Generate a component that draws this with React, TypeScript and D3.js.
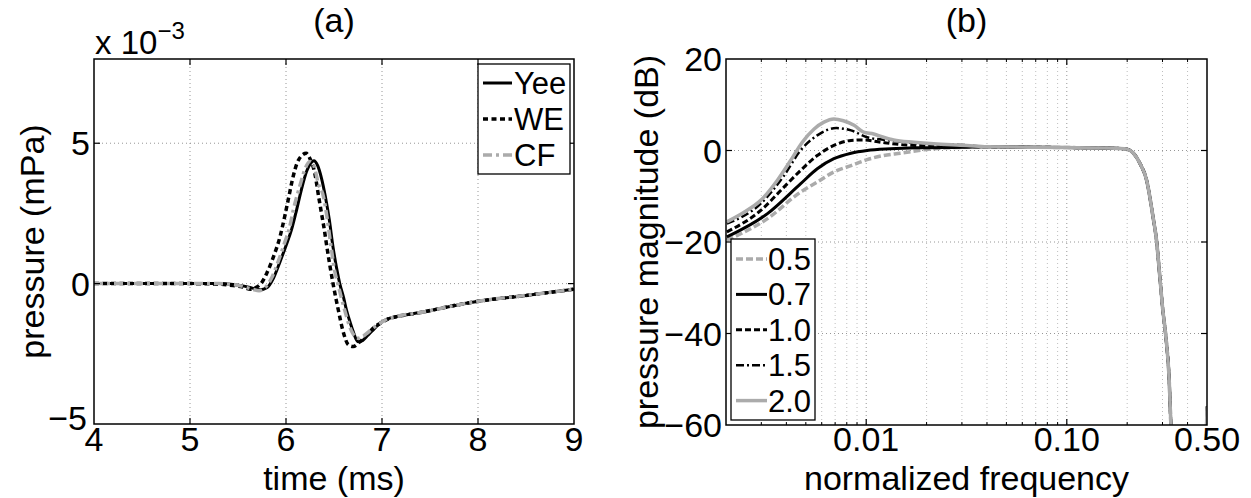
import React from 'react';
import * as d3 from 'd3';

const FONT = "'Liberation Sans', Arial, Helvetica, sans-serif";
const GRAY = '#ababab';

// ---- (a) pressure waveforms: time in ms, pressure in units of 1e-3 mPa ----
const yeeT = [4.0, 5.0, 5.3, 5.45, 5.55, 5.65, 5.73, 5.8, 5.87, 5.94, 6.0, 6.06, 6.11, 6.16, 6.215, 6.26, 6.29, 6.33, 6.37, 6.41, 6.45, 6.49, 6.53, 6.56, 6.6, 6.63, 6.67, 6.7, 6.75, 6.8, 6.85, 6.9, 6.95, 7.0, 7.05, 7.15, 7.4, 7.8, 8.0, 8.5, 9.0];
const yeeP = [0, 0, 0, -0.03, -0.08, -0.16, -0.22, -0.15, 0.2, 0.8, 1.35, 1.95, 2.62, 3.34, 4.0, 4.3, 4.38, 4.2, 3.75, 3.1, 2.3, 1.3, 0.5, 0.0, -0.5, -0.94, -1.4, -1.71, -2.07, -2.02, -1.85, -1.68, -1.5, -1.36, -1.27, -1.17, -1.03, -0.75, -0.63, -0.42, -0.2];

const weT = [4.0, 5.0, 5.3, 5.45, 5.55, 5.63, 5.68, 5.75, 5.8, 5.87, 5.94, 5.99, 6.03, 6.06, 6.13, 6.21, 6.25, 6.3, 6.34, 6.37, 6.4, 6.42, 6.49, 6.545, 6.6, 6.65, 6.7, 6.77, 6.85, 6.92, 7.0, 7.05, 7.15, 7.4, 7.8, 8.0, 8.5, 9.0];
const weP = [0, 0, -0.02, -0.07, -0.12, -0.2, -0.15, 0.05, 0.37, 0.96, 1.7, 2.45, 3.1, 3.6, 4.4, 4.64, 4.45, 3.93, 3.1, 2.5, 1.9, 1.44, 0.0, -0.94, -1.77, -2.18, -2.24, -2.07, -1.8, -1.55, -1.38, -1.28, -1.18, -1.03, -0.75, -0.63, -0.42, -0.2];

const cfT = [4.0, 5.0, 5.3, 5.45, 5.55, 5.65, 5.72, 5.78, 5.85, 5.92, 5.98, 6.035, 6.076, 6.146, 6.2, 6.25, 6.29, 6.337, 6.39, 6.43, 6.47, 6.51, 6.54, 6.58, 6.62, 6.66, 6.7, 6.74, 6.79, 6.85, 6.92, 7.0, 7.05, 7.15, 7.4, 7.8, 8.0, 8.5, 9.0];
const cfP = [0, 0, 0, -0.03, -0.1, -0.2, -0.25, -0.15, 0.2, 0.8, 1.4, 1.97, 2.62, 3.5, 4.1, 4.35, 4.2, 3.56, 3.1, 2.3, 1.3, 0.4, 0.0, -0.55, -1.05, -1.5, -1.8, -1.95, -1.9, -1.75, -1.55, -1.37, -1.27, -1.17, -1.03, -0.75, -0.63, -0.42, -0.2];

const timeTicks = [4, 5, 6, 7, 8, 9];
const pressureTicks = [-5, 0, 5];

// ---- (b) pressure magnitude (dB) vs normalized frequency, per Courant-type parameter ----
const tailF = [0.04, 0.07, 0.1, 0.15, 0.184, 0.2, 0.215, 0.232, 0.25, 0.269, 0.28, 0.29, 0.3, 0.313, 0.324, 0.33, 0.336, 0.49, 0.5];
const tailDb = [0.8, 0.72, 0.65, 0.55, 0.45, 0.3, -0.6, -2.9, -6.5, -14.5, -19.6, -26.9, -34.2, -41.4, -50.2, -59.6, -68, -68, -56];

const f05 = [0.00202, 0.00322, 0.0047, 0.0057, 0.0069, 0.0084, 0.0101, 0.0122, 0.0148, 0.0217, 0.0318];
const db05 = [-19.6, -14.9, -9.1, -6.9, -4.7, -3.3, -2.0, -1.1, -0.6, 0.4, 0.72];
const f07 = [0.00202, 0.00322, 0.0047, 0.0057, 0.0069, 0.0084, 0.0101, 0.0132, 0.0179, 0.0318];
const db07 = [-18.9, -13.8, -7.3, -4.0, -1.8, -0.6, 0, 0.36, 0.58, 0.72];
const f10 = [0.00202, 0.00298, 0.00389, 0.0047, 0.0057, 0.0069, 0.0084, 0.0097, 0.0118, 0.0148, 0.0217, 0.0318];
const db10 = [-17.8, -13.1, -8.0, -4.4, -1.1, 1.1, 2.2, 2.3, 1.8, 1.3, 1.0, 0.9];
const f15 = [0.00202, 0.00298, 0.00389, 0.0047, 0.0057, 0.0071, 0.0084, 0.0101, 0.0132, 0.0179, 0.0318];
const db15 = [-16.0, -11.6, -5.5, 0, 3.3, 4.9, 4.4, 2.9, 2.2, 1.6, 1.15];
const f20 = [0.00202, 0.00246, 0.00298, 0.00361, 0.0042, 0.0048, 0.0055, 0.00615, 0.0069, 0.0077, 0.0087, 0.0097, 0.0109, 0.0122, 0.0137, 0.0173, 0.0217, 0.0318];
const db20 = [-15.6, -13.5, -10.9, -6.5, -2.2, 1.8, 4.7, 6.2, 6.9, 6.5, 5.5, 4.0, 3.6, 2.9, 2.3, 1.8, 1.45, 1.1];

const dbTicks = [-60, -40, -20, 0, 20];
const freqMajor = [0.01, 0.1, 0.5];
const freqMajorLabels = ['0.01', '0.10', '0.50'];
const freqMinor = [0.003, 0.004, 0.005, 0.006, 0.007, 0.008, 0.009, 0.02, 0.03, 0.04, 0.05, 0.06, 0.07, 0.08, 0.09, 0.2, 0.3, 0.4];

const zip = (a: number[], b: number[]) => a.map((v, i) => [v, b[i]] as [number, number]);

// panel frames
const A = { x0: 94, x1: 574, y0: 59, y1: 424 };
const B = { x0: 726, x1: 1207, y0: 59, y1: 425 };

const xA = d3.scaleLinear().domain([4, 9]).range([A.x0, A.x1]);
const yA = d3.scaleLinear().domain([-5, 8]).range([A.y1, A.y0]);
const xB = d3.scaleLog().domain([0.002, 0.5]).range([B.x0, B.x1]);
const yB = d3.scaleLinear().domain([-60, 20]).range([B.y1, B.y0]);

const lineA = d3.line<[number, number]>().x(d => xA(d[0])).y(d => yA(d[1])).curve(d3.curveMonotoneX);
const lineB = d3.line<[number, number]>().x(d => xB(d[0])).y(d => yB(d[1])).curve(d3.curveMonotoneX);

const seriesA = [
  { name: 'Yee', data: zip(yeeT, yeeP), color: '#000', width: 3, dash: undefined as string | undefined },
  { name: 'WE', data: zip(weT, weP), color: '#000', width: 3.5, dash: '5,3.5' },
  { name: 'CF', data: zip(cfT, cfP), color: GRAY, width: 3.5, dash: '9,4,3,4' },
];

const seriesB = [
  { name: '0.5', data: zip(f05.concat(tailF), db05.concat(tailDb)), color: GRAY, width: 3.5, dash: '7,3' as string | undefined },
  { name: '0.7', data: zip(f07.concat(tailF), db07.concat(tailDb)), color: '#000', width: 3, dash: undefined },
  { name: '1.0', data: zip(f10.concat(tailF), db10.concat(tailDb)), color: '#000', width: 3, dash: '6,3' },
  { name: '1.5', data: zip(f15.concat(tailF), db15.concat(tailDb)), color: '#000', width: 2.5, dash: '8,3,2,3' },
  { name: '2.0', data: zip(f20.concat(tailF), db20.concat(tailDb)), color: GRAY, width: 3.5, dash: undefined },
];

const GRID = { stroke: '#8a8a8a', strokeWidth: 0.9, strokeDasharray: '1,3' };
const GRID_MINOR = { stroke: '#b5b5b5', strokeWidth: 0.9, strokeDasharray: '1,3' };

export default function App() {
  const fs = 34;
  const lfs = 31;
  const tickBase = 27;
  const titleBase = 490;
  return (
    <svg width={1251} height={498} style={{ position: 'absolute', left: 0, top: 0, background: '#fff' }} fontFamily={FONT}>
      <defs>
        <clipPath id="clipA"><rect x={A.x0} y={A.y0} width={A.x1 - A.x0} height={A.y1 - A.y0} /></clipPath>
        <clipPath id="clipB"><rect x={B.x0} y={B.y0} width={B.x1 - B.x0} height={B.y1 - B.y0} /></clipPath>
      </defs>
      <rect x={0} y={0} width={1251} height={498} fill="#fff" />

      {/* ---------- panel (a) ---------- */}
      <g>
        {timeTicks.slice(1, -1).map(t => (
          <line key={'ga' + t} x1={xA(t)} x2={xA(t)} y1={A.y0} y2={A.y1} {...GRID} />
        ))}
        {[0, 5].map(p => (
          <line key={'gha' + p} x1={A.x0} x2={A.x1} y1={yA(p)} y2={yA(p)} {...GRID} />
        ))}
        <g clipPath="url(#clipA)">
          {seriesA.map(s => (
            <path key={s.name} d={lineA(s.data) || ''} fill="none" stroke={s.color} strokeWidth={s.width}
              strokeDasharray={s.dash} strokeLinejoin="round" />
          ))}
        </g>
        <rect x={A.x0} y={A.y0} width={A.x1 - A.x0} height={A.y1 - A.y0} fill="none" stroke="#000" strokeWidth={1.5} />
        {timeTicks.slice(1, -1).map(t => (
          <g key={'ta' + t}>
            <line x1={xA(t)} x2={xA(t)} y1={A.y1} y2={A.y1 - 6} stroke="#000" strokeWidth={1.2} />
            <line x1={xA(t)} x2={xA(t)} y1={A.y0} y2={A.y0 + 6} stroke="#000" strokeWidth={1.2} />
          </g>
        ))}
        {[0, 5].map(p => (
          <g key={'tya' + p}>
            <line x1={A.x0} x2={A.x0 + 6} y1={yA(p)} y2={yA(p)} stroke="#000" strokeWidth={1.2} />
            <line x1={A.x1} x2={A.x1 - 6} y1={yA(p)} y2={yA(p)} stroke="#000" strokeWidth={1.2} />
          </g>
        ))}
        {timeTicks.map(t => (
          <text key={'la' + t} x={xA(t)} y={A.y1 + tickBase} fontSize={fs} textAnchor="middle">{t}</text>
        ))}
        {pressureTicks.map(p => (
          <text key={'lya' + p} x={A.x0 - (p === -5 ? 7 : 4)} y={yA(p) - (p === -5 ? 6 : 0)} dy="0.36em" fontSize={fs} textAnchor="end">
            {p < 0 ? '\u2212' + Math.abs(p) : p}
          </text>
        ))}
        <text x={95} y={54} fontSize={33}>x 10<tspan fontSize={24} dy={-15}>{'\u22123'}</tspan></text>
        <text x={(A.x0 + A.x1) / 2} y={32} fontSize={fs} textAnchor="middle">(a)</text>
        <text x={(A.x0 + A.x1) / 2} y={titleBase} fontSize={fs} textAnchor="middle">time (ms)</text>
        <text transform={`translate(44,${(A.y0 + A.y1) / 2}) rotate(-90)`} fontSize={fs} textAnchor="middle">pressure (mPa)</text>

        {/* legend */}
        <rect x={478} y={64} width={92} height={110} fill="#fff" stroke="#000" strokeWidth={1.3} />
        {seriesA.map((s, i) => {
          const by = 94 + i * 36;
          return (
            <g key={'lga' + s.name}>
              <line x1={483} x2={512} y1={by - 11} y2={by - 11} stroke={s.color} strokeWidth={s.width} strokeDasharray={s.dash} />
              <text x={514} y={by} fontSize={lfs}>{s.name}</text>
            </g>
          );
        })}
      </g>

      {/* ---------- panel (b) ---------- */}
      <g>
        {freqMinor.map(f => (
          <line key={'gmb' + f} x1={xB(f)} x2={xB(f)} y1={B.y0} y2={B.y1} {...GRID_MINOR} />
        ))}
        {freqMajor.slice(0, 2).map(f => (
          <line key={'gMb' + f} x1={xB(f)} x2={xB(f)} y1={B.y0} y2={B.y1} {...GRID} />
        ))}
        {dbTicks.slice(1, -1).map(v => (
          <line key={'ghb' + v} x1={B.x0} x2={B.x1} y1={yB(v)} y2={yB(v)} {...GRID} />
        ))}
        <g clipPath="url(#clipB)">
          {seriesB.map(s => (
            <path key={s.name} d={lineB(s.data) || ''} fill="none" stroke={s.color} strokeWidth={s.width}
              strokeDasharray={s.dash} strokeLinejoin="round" />
          ))}
        </g>
        <rect x={B.x0} y={B.y0} width={B.x1 - B.x0} height={B.y1 - B.y0} fill="none" stroke="#000" strokeWidth={1.5} />
        {freqMinor.map(f => (
          <g key={'tmb' + f}>
            <line x1={xB(f)} x2={xB(f)} y1={B.y1} y2={B.y1 - 3} stroke="#000" strokeWidth={1} />
            <line x1={xB(f)} x2={xB(f)} y1={B.y0} y2={B.y0 + 3} stroke="#000" strokeWidth={1} />
          </g>
        ))}
        {freqMajor.slice(0, 2).map(f => (
          <g key={'tMb' + f}>
            <line x1={xB(f)} x2={xB(f)} y1={B.y1} y2={B.y1 - 6} stroke="#000" strokeWidth={1.2} />
            <line x1={xB(f)} x2={xB(f)} y1={B.y0} y2={B.y0 + 6} stroke="#000" strokeWidth={1.2} />
          </g>
        ))}
        {dbTicks.slice(1, -1).map(v => (
          <g key={'tyb' + v}>
            <line x1={B.x0} x2={B.x0 + 6} y1={yB(v)} y2={yB(v)} stroke="#000" strokeWidth={1.2} />
            <line x1={B.x1} x2={B.x1 - 6} y1={yB(v)} y2={yB(v)} stroke="#000" strokeWidth={1.2} />
          </g>
        ))}
        {freqMajor.map((f, i) => (
          <text key={'lb' + f} x={xB(f)} y={B.y1 + tickBase - 1} fontSize={fs} textAnchor="middle">{freqMajorLabels[i]}</text>
        ))}
        {dbTicks.map(v => (
          <text key={'lyb' + v} x={B.x0 - 4} y={yB(v)} dy="0.36em" fontSize={fs} textAnchor="end">
            {v < 0 ? '\u2212' + Math.abs(v) : v}
          </text>
        ))}
        <text x={(B.x0 + B.x1) / 2} y={32} fontSize={fs} textAnchor="middle">(b)</text>
        <text x={(B.x0 + B.x1) / 2} y={titleBase} fontSize={fs} textAnchor="middle">normalized frequency</text>
        <text transform={`translate(658,${(B.y0 + B.y1) / 2}) rotate(-90)`} fontSize={fs} textAnchor="middle">pressure magnitude (dB)</text>

        {/* legend */}
        <rect x={731} y={239} width={84} height={181} fill="#fff" stroke="#000" strokeWidth={1.3} />
        {seriesB.map((s, i) => {
          const by = 270 + i * 35.4;
          return (
            <g key={'lgb' + s.name}>
              <line x1={736} x2={767} y1={by - 11} y2={by - 11} stroke={s.color} strokeWidth={s.width} strokeDasharray={s.dash} />
              <text x={768} y={by} fontSize={lfs}>{s.name}</text>
            </g>
          );
        })}
      </g>
    </svg>
  );
}
